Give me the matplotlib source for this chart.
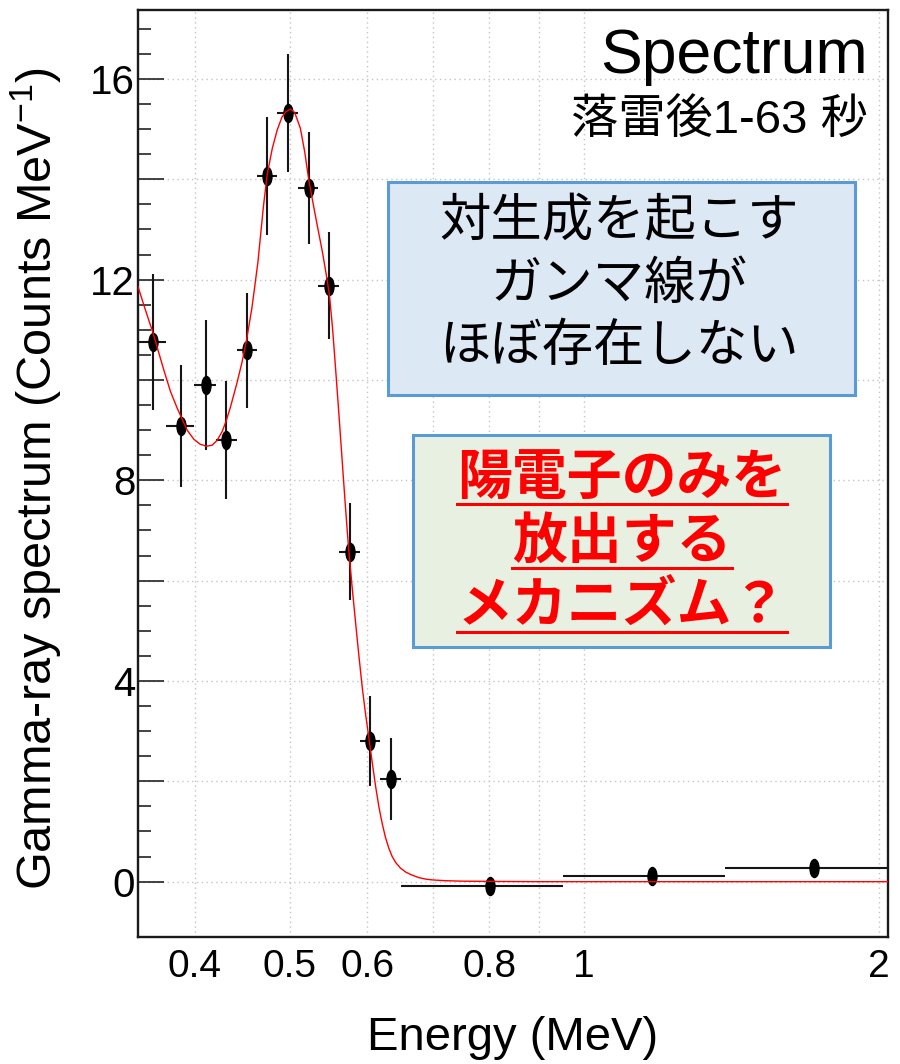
import numpy as np
import matplotlib
matplotlib.use('Agg')
import matplotlib.pyplot as plt
from matplotlib import ticker, font_manager
from matplotlib.path import Path
from matplotlib.transforms import Affine2D
from matplotlib.patches import Rectangle
from matplotlib.lines import Line2D

# ---------------- data ----------------
bin_lo = [0.345, 0.3741, 0.3996, 0.4200, 0.4412, 0.4631, 0.4858, 0.5104,
          0.5351, 0.5621, 0.5898, 0.6187, 0.6497, 0.9510, 1.3932]
bin_hi = [0.3741, 0.3996, 0.4200, 0.4412, 0.4631, 0.4858, 0.5104, 0.5351,
          0.5621, 0.5898, 0.6187, 0.6497, 0.9510, 1.3932, 2.0395]
energy_pt = [0.3622, 0.3873, 0.4104, 0.4305, 0.4518, 0.4743, 0.4981, 0.5229,
             0.5490, 0.5758, 0.6045, 0.6347, 0.8012, 1.1734, 1.7180]
counts = [10.76, 9.08, 9.90, 8.80, 10.59, 14.07, 15.32, 13.83,
          11.88, 6.58, 2.81, 2.05, -0.08, 0.12, 0.27]
count_err = [1.36, 1.22, 1.29, 1.17, 1.15, 1.17, 1.18, 1.11,
             1.06, 0.96, 0.90, 0.82, 0.13, 0.12, 0.12]

fit_energy = [0.3499, 0.3560, 0.3622, 0.3718, 0.3777, 0.3837, 0.3928, 0.3990,
              0.4050, 0.4111, 0.4166, 0.4216, 0.4265, 0.4305, 0.4348, 0.4418,
              0.4469, 0.4518, 0.4576, 0.4640, 0.4700, 0.4743, 0.4800, 0.4855,
              0.4910, 0.4951, 0.5009, 0.5060, 0.5127, 0.5180, 0.5229, 0.5280,
              0.5333, 0.5401, 0.5450, 0.5490, 0.5530, 0.5572, 0.5620, 0.5662,
              0.5700, 0.5741, 0.5790, 0.5840, 0.5885, 0.5933, 0.5980, 0.6026,
              0.6075, 0.6121, 0.6170, 0.6218, 0.6265, 0.6316, 0.6365, 0.6418,
              0.6490, 0.6572, 0.6670, 0.6778, 0.6890, 0.6995, 0.7200, 0.7500,
              0.8000, 0.9000, 2.0500]
fit_counts = [11.86, 11.40, 10.96, 10.20, 9.77, 9.44, 9.00, 8.82,
              8.72, 8.68, 8.70, 8.80, 8.97, 9.18, 9.45, 9.95,
              10.35, 10.80, 11.45, 12.35, 13.45, 14.10, 14.62, 14.98,
              15.24, 15.34, 15.40, 15.33, 15.02, 14.55, 14.00, 13.55,
              13.10, 12.55, 12.10, 11.70, 11.05, 10.20, 9.20, 8.30,
              7.50, 6.70, 5.90, 5.15, 4.50, 3.85, 3.32, 2.85,
              2.35, 1.90, 1.48, 1.15, 0.88, 0.66, 0.50, 0.38,
              0.27, 0.19, 0.13, 0.08, 0.05, 0.035, 0.02, 0.01,
              0.005, 0.0, 0.0]

x_tick_vals = [0.4, 0.5, 0.6, 0.7, 0.8, 0.9, 1.0, 2.0]
x_tick_text = ['0.4', '0.5', '0.6', '', '0.8', '', '1', '2']

title_text = 'Spectrum'
subtitle_text = '落雷後1-63 秒'
blue_lines = ['対生成を起こす', 'ガンマ線が', 'ほぼ存在しない']
red_lines = ['陽電子のみを', '放出する', 'メカニズム？']

# ---------------- fonts ----------------
avail = {f.name for f in font_manager.fontManager.ttflist}
SANS = 'Liberation Sans' if 'Liberation Sans' in avail else 'DejaVu Sans'
NARROW = 'Liberation Sans Narrow' if 'Liberation Sans Narrow' in avail else SANS
CJK = 'Noto Sans CJK JP'

plt.rcParams['font.family'] = [SANS, CJK, 'DejaVu Sans']
plt.rcParams['mathtext.fontset'] = 'custom'
plt.rcParams['mathtext.rm'] = SANS
plt.rcParams['mathtext.it'] = SANS + ':italic'
plt.rcParams['mathtext.bf'] = SANS + ':bold'

W, H = 900, 1064
fig = plt.figure(figsize=(W / 100, H / 100), dpi=100)
ax = fig.add_axes([138 / W, 1 - 936.7 / H, (887.5 - 138) / W, (936.7 - 10) / H])

ax.set_xscale('log')
ax.set_xlim(0.3499, 2.042)
ax.set_ylim(-1.097, 17.375)

# x axis ticks / grid
ax.xaxis.set_major_locator(ticker.FixedLocator(x_tick_vals))
ax.xaxis.set_major_formatter(ticker.FixedFormatter(x_tick_text))
ax.xaxis.set_minor_locator(ticker.NullLocator())
x_label_size = 30 if NARROW != SANS else 28
ax.tick_params(axis='x', which='both', length=0, pad=9, labelsize=x_label_size)
for lab in ax.get_xticklabels():
    lab.set_family(NARROW)

# y axis ticks / grid
ax.yaxis.set_major_locator(ticker.FixedLocator(np.arange(0, 17, 2)))
ax.yaxis.set_major_formatter(
    ticker.FuncFormatter(lambda v, p: f'{v:g}' if abs(v % 4) < 1e-9 else ''))
ax.yaxis.set_minor_locator(ticker.FixedLocator(np.arange(0, 17.01, 0.5)))
ax.tick_params(axis='y', which='major', direction='in', length=19, width=1.2,
               color='#222222', pad=2, labelsize=29)
ax.tick_params(axis='y', which='minor', direction='in', length=9.5, width=1.2,
               color='#222222')

ax.grid(True, which='major', color='#c4c4c4', linestyle=(0, (1, 2.5)),
        linewidth=1.0)
ax.set_axisbelow(True)

for s in ax.spines.values():
    s.set_linewidth(1.7)
    s.set_color('#1a1a1a')

# ---------------- data drawing ----------------
ept = np.array(energy_pt)
xerr = [ept - np.array(bin_lo), np.array(bin_hi) - ept]
ax.errorbar(ept, counts, xerr=xerr, yerr=count_err, fmt='none',
            ecolor='#151515', elinewidth=1.5, capsize=0, zorder=3)
ellipse = Path.unit_circle().transformed(Affine2D().scale(0.5, 1.0))
ax.plot(ept, counts, linestyle='none', marker=ellipse, markersize=13,
        color='black', zorder=4)
ax.plot(fit_energy, fit_counts, color='#ff0000', lw=1.0, zorder=5)

# ---------------- labels ----------------
ax.set_ylabel('Gamma-ray spectrum (Counts MeV$^{-1}$)', fontsize=35,
              va='center')
ax.yaxis.set_label_coords((36 - 138) / (887.5 - 138), (936.7 - 478) / 926.7)
xl_size = 40 if NARROW != SANS else 34
ax.set_xlabel('Energy (MeV)', fontsize=xl_size, family=NARROW, va='center')
ax.xaxis.set_label_coords(0.5, (936.7 - 1038) / 926.7)

fig.text(868 / W, 1 - 73 / H, title_text, ha='right', va='baseline',
         fontsize=45, family=SANS)
fig.text(868 / W, 1 - 121 / H, subtitle_text, ha='right', va='center',
         fontsize=34, family=[SANS, CJK])

# ---------------- boxes ----------------
blue_box = Rectangle((388 / W, 1 - 395 / H), (855 - 388) / W, (395 - 181.7) / H,
                     transform=fig.transFigure, facecolor='#dde8f5',
                     edgecolor='#5b9bd5', linewidth=2.2, zorder=10)
green_box = Rectangle((413 / W, 1 - 647 / H), (830 - 413) / W, (647 - 435) / H,
                      transform=fig.transFigure, facecolor='#e8f1e1',
                      edgecolor='#5b9bd5', linewidth=2.2, zorder=10)
fig.add_artist(blue_box)
fig.add_artist(green_box)

for txt, yc in zip(blue_lines, [222, 284, 346]):
    fig.text(619 / W, 1 - yc / H, txt, ha='center', va='center', fontsize=37,
             family=[CJK], color='black', zorder=11)

red_texts = []
for txt, yc in zip(red_lines, [477, 541, 605]):
    t = fig.text(622 / W, 1 - yc / H, txt, ha='center', va='center',
                 fontsize=39.5, family=[CJK], color='#ff0000', weight='bold',
                 zorder=11)
    red_texts.append(t)

fig.canvas.draw()
renderer = fig.canvas.get_renderer()
for t, yu in zip(red_texts, [504, 568, 632]):
    bb = t.get_window_extent(renderer)
    fig.add_artist(Line2D([bb.x0 / W, bb.x1 / W], [1 - yu / H, 1 - yu / H],
                          transform=fig.transFigure, color='#ff0000',
                          linewidth=2.2, zorder=11))

fig.savefig('out.png', dpi=100)
